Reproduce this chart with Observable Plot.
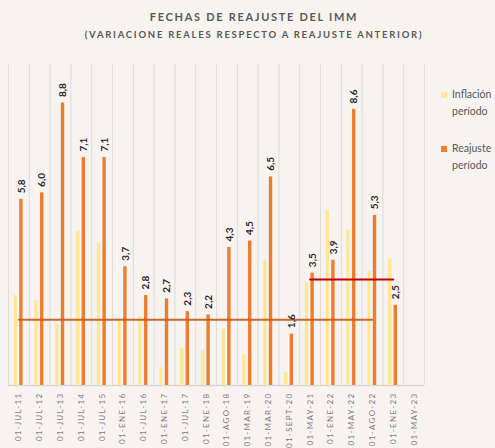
<!DOCTYPE html>
<html><head><meta charset="utf-8">
<script src="https://cdn.jsdelivr.net/npm/d3@7"></script>
<script src="https://cdn.jsdelivr.net/npm/@observablehq/plot@0.6"></script>
<style>
html,body{margin:0;padding:0;background:#f6f3f0;width:495px;height:448px;overflow:hidden;font-family:Lato,"Open Sans",sans-serif;}
#wrap{position:relative;width:495px;height:448px;overflow:hidden;}
.t{position:absolute;left:0;width:508px;text-align:center;color:#595959;font-weight:bold;white-space:nowrap;}
#t1{top:10px;font-size:11px;letter-spacing:1.7px;}
#t2{top:29px;font-size:9.5px;letter-spacing:1.75px;}
#chart{position:absolute;left:0;top:48px;}
#legend{position:absolute;left:441px;top:86px;width:60px;color:#595959;font-size:10.5px;line-height:17px;}
.item{position:relative;padding-left:11px;margin-bottom:20px;white-space:nowrap;}
.sw{position:absolute;left:0;top:6px;width:6px;height:6px;}
#chart svg text{letter-spacing:1.3px;}
#chart svg g[aria-label="text"] text{letter-spacing:0;}
</style>
</head><body>
<div id="wrap">
  <div class="t" id="t1">FECHAS DE REAJUSTE DEL IMM</div>
  <div class="t" id="t2">(VARIACIONE REALES RESPECTO A REAJUSTE ANTERIOR)</div>
  <div id="chart"></div>
  <div id="legend"></div>
</div>
<script>
const categorias = ["01-JUL-11","01-JUL-12","01-JUL-13","01-JUL-14","01-JUL-15","01-ENE-16","01-JUL-16","01-ENE-17","01-JUL-17","01-ENE-18","01-AGO-18","01-MAR-19","01-MAR-20","01-SEPT-20","01-MAY-21","01-ENE-22","01-MAY-22","01-AGO-22","01-ENE-23","01-MAY-23"];
const inflacion = [2.8, 2.65, 1.9, 4.8, 4.45, 2.0, 2.15, 0.55, 1.15, 1.1, 1.75, 0.95, 3.9, 0.4, 3.2, 5.45, 4.85, 3.55, 3.95, null];
const reajuste = [5.8, 6.0, 8.8, 7.1, 7.1, 3.7, 2.8, 2.7, 2.3, 2.2, 4.3, 4.5, 6.5, 1.6, 3.5, 3.9, 8.6, 5.3, 2.5, null];
const promedioLargo = {desde: "01-JUL-11", hasta: "01-AGO-22", valor: 2.05};
const promedioCorto = {desde: "01-MAY-21", hasta: "01-ENE-23", valor: 3.3};
const serieNombres = [["Inflación", "período"], ["Reajuste", "período"]];

const colorInfl = "#FFE699", colorReaj = "#ED7D31";
const data = categorias.map((c, i) => ({fecha: c, inflacion: inflacion[i], reajuste: reajuste[i]}));
const lineaLarga = [promedioLargo.desde, promedioLargo.hasta].map(f => ({fecha: f, v: promedioLargo.valor}));
const lineaCorta = [promedioCorto.desde, promedioCorto.hasta].map(f => ({fecha: f, v: promedioCorto.valor}));
const fmt = v => v.toFixed(1).replace(".", ",");

const W = 495, ML = 8, MR = 71;
const bw = (W - ML - MR) / categorias.length;

const chart = Plot.plot({
  width: W, height: 400,
  marginTop: 16, marginBottom: 63, marginLeft: ML, marginRight: MR,
  style: {background: "transparent", fontFamily: "Lato, 'Open Sans', sans-serif", fontSize: "8px", color: "#7f7f7f"},
  x: {domain: categorias, padding: 0, round: false, tickRotate: -90, tickSize: 0, tickPadding: 7, label: null},
  y: {domain: [0, 10], axis: null},
  marks: [
    Plot.ruleX(categorias, {x: d => d, dx: -bw / 2, stroke: "#dfdbd7"}),
    Plot.ruleX(categorias.slice(-1), {x: d => d, dx: bw / 2, stroke: "#dfdbd7"}),
    Plot.ruleY([0], {stroke: "#d9d6d2", strokeWidth: 1.5}),
    Plot.barY(data.filter(d => d.inflacion != null), {x: "fecha", y: "inflacion", fill: colorInfl, insetLeft: 5.6, insetRight: 11.8}),
    Plot.barY(data.filter(d => d.reajuste != null), {x: "fecha", y: "reajuste", fill: colorReaj, insetLeft: 11.2, insetRight: 6.2}),
    Plot.line(lineaLarga, {x: "fecha", y: "v", stroke: "#C55A11", strokeWidth: 2, strokeOpacity: 0.9}),
    Plot.line(lineaCorta, {x: "fecha", y: "v", stroke: "#C00000", strokeWidth: 2}),
    Plot.text(data.filter(d => d.reajuste != null), {x: "fecha", y: "reajuste", text: d => fmt(d.reajuste), rotate: -90, textAnchor: "start", dx: 2.5, dy: -6, fontSize: 10, fontWeight: "bold", fill: "#262626"})
  ]
});
document.getElementById("chart").appendChild(chart);

const legend = document.getElementById("legend");
[[serieNombres[0], colorInfl], [serieNombres[1], colorReaj]].forEach(([lines, col]) => {
  const div = document.createElement("div");
  div.className = "item";
  div.innerHTML = `<span class="sw" style="background:${col}"></span>${lines[0]}<br>${lines[1]}`;
  legend.appendChild(div);
});
</script>
</body></html>
